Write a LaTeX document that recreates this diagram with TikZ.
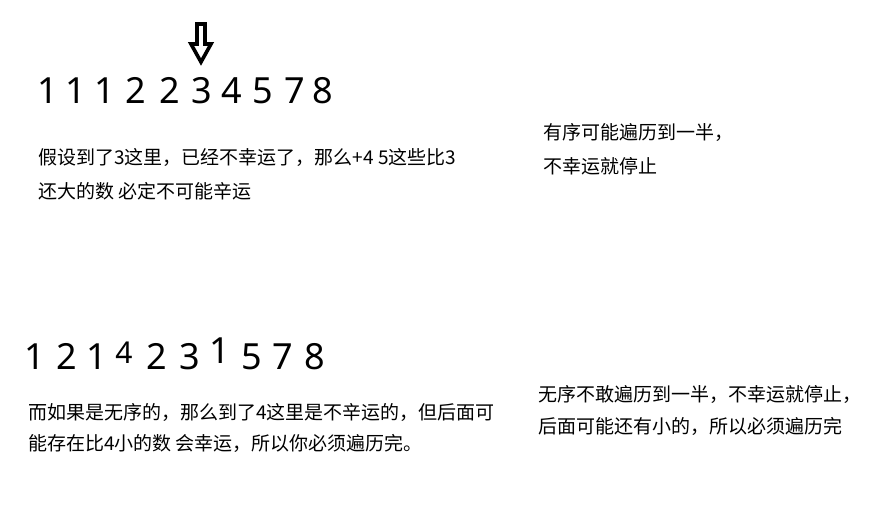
\documentclass[tikz,border=0pt]{standalone}
\usepackage{fontspec}
\setmainfont{Noto Sans}
\newfontfamily\cjk{Noto Sans CJK SC}
\begin{document}
\begin{tikzpicture}[x=1pt,y=-1pt,
  digit/.style={inner sep=0pt,anchor=base,font=\fontsize{36}{36}\selectfont},
  note/.style={inner sep=0pt,anchor=west,font=\cjk\fontsize{19}{22}\selectfont}]
\useasboundingbox[fill=white] (0,0) rectangle (884,515);
% top row
\foreach \x/\d [count=\i] in {48/1,76/1,105/1,136/2,170/2,202/3,232/4,263/5,295/7,323/8}
  \node[digit] (t\i) at (\x,103) {\d};
% bottom row
\foreach \x/\d/\y [count=\i] in {35/1/369,67/2/369,97/1/369,190/3/369,220/1/363,252/5/369,283/7/369,315/8/369}
  \node[digit] (b\i) at (\x,\y) {\d};
\node[inner sep=0pt,anchor=base,font=\fontsize{30}{30}\selectfont] (b4) at (124,363.5) {4};
\node[digit] (b5) at (157,369) {2};
% arrow
\draw[line width=3.6pt,line join=miter] (197,24) -- (205,24) -- (205,44) -- (211,44) -- (201,62) -- (191,44) -- (197,44) -- cycle;
% notes
\node[note] (n1) at (38,157) {假设到了3这里，已经不幸运了，那么+4 5这些比3};
\node[note] (n2) at (38,191) {还大的数 必定不可能辛运};
\node[note] (n3) at (543,132) {有序可能遍历到一半，};
\node[note] (n4) at (543,166) {不幸运就停止};
\node[note] (n5) at (28,412) {而如果是无序的，那么到了4这里是不辛运的，但后面可};
\node[note] (n6) at (28,443) {能存在比4小的数 会幸运，所以你必须遍历完。};
\node[note] (n7) at (538,394) {无序不敢遍历到一半，不幸运就停止，};
\node[note] (n8) at (538,426) {后面可能还有小的，所以必须遍历完};
\end{tikzpicture}
\end{document}
